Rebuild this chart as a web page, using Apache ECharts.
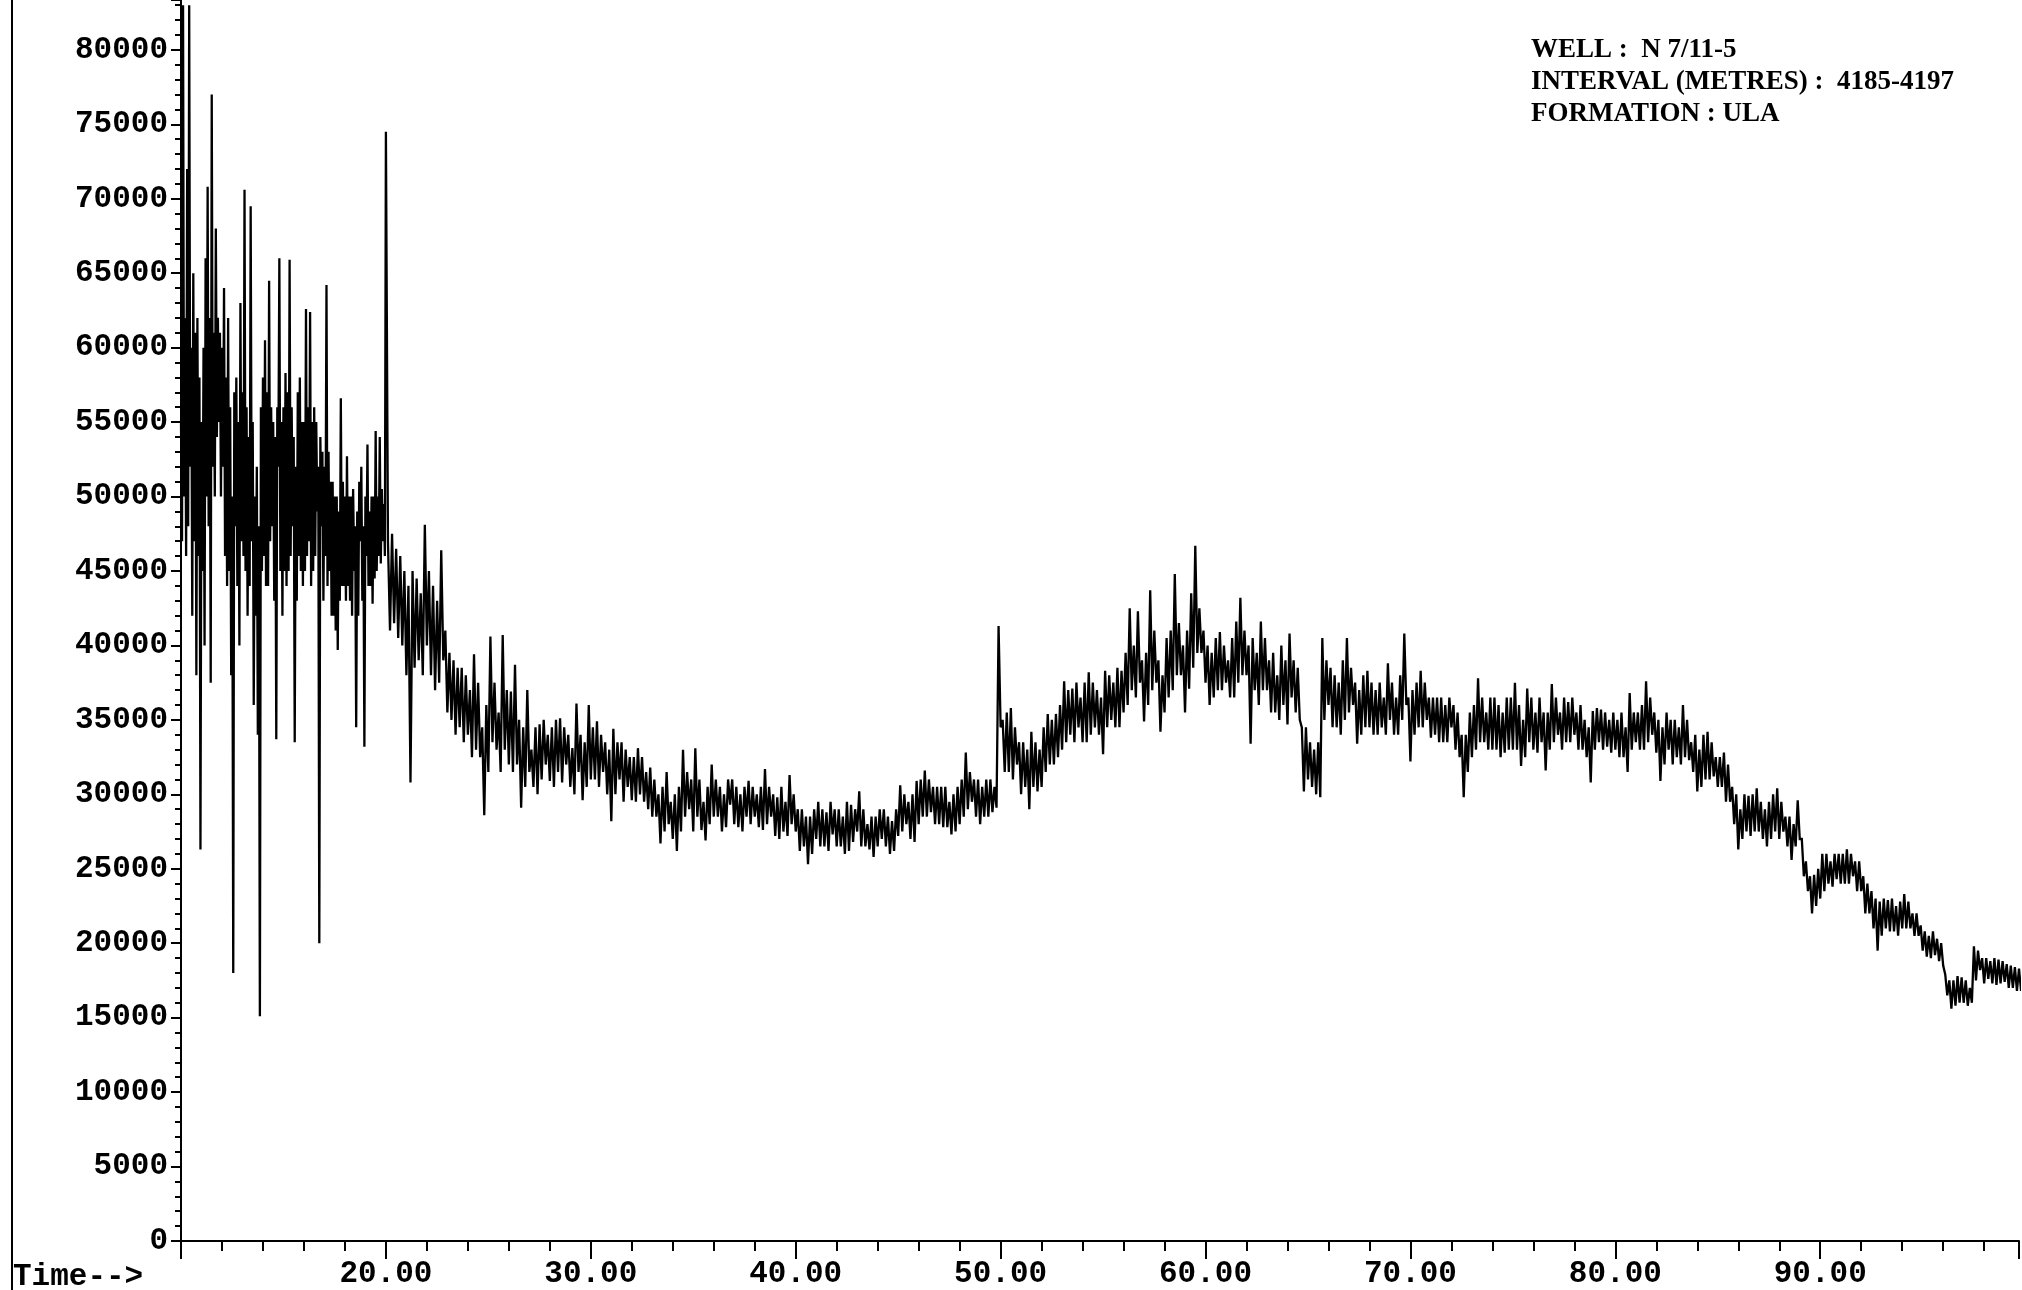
<!DOCTYPE html>
<html>
<head>
<meta charset="utf-8">
<title>TIC N 7/11-5</title>
<script src="https://cdn.jsdelivr.net/npm/echarts@6/dist/echarts.min.js"></script>
<style>
  html, body { margin: 0; padding: 0; background: #fff; }
  #chart { width: 2022px; height: 1290px; }
</style>
</head>
<body>
<div id="chart"></div>
<script>
// Total ion current, abundance vs retention time (min)

// 10.00 – 20.00 min, one reading every 0.05 min (one row per minute)
const fastStart = 10.0;
const fastStep = 0.05;
const countsFast = [
  55000, 47000, 83000, 50000, 62000, 46000, 72000, 48000, 83000, 52000,
  60000, 42000, 65000, 47000, 61000, 38000, 62000, 46000, 58000, 26300, // 10
  55000, 45000, 60000, 40000, 66000, 50000, 70800, 48000, 62000, 37500,
  77000, 52000, 61000, 50000, 68000, 54000, 62000, 55000, 61000, 50000, // 11
  60000, 52000, 64000, 46000, 58000, 44000, 62000, 45000, 56000, 38000,
  50000, 18000, 57000, 48000, 58000, 44000, 55000, 40000, 63000, 47000, // 12
  57000, 46000, 70600, 45000, 56000, 42000, 54000, 44000, 69500, 47000,
  55000, 36000, 50000, 42000, 52000, 34000, 48000, 15100, 56000, 45000, // 13
  58000, 46000, 60500, 44000, 57000, 44000, 64500, 47000, 56000, 48000,
  55000, 43000, 54000, 33700, 56000, 52000, 66000, 45000, 55000, 42000, // 14
  56000, 45000, 58300, 44000, 57000, 45000, 65900, 46000, 56000, 48000,
  54000, 33500, 52000, 43000, 57000, 46000, 58000, 45000, 55000, 44000, // 15
  55000, 45000, 62600, 46000, 56000, 47000, 62400, 44000, 55000, 45000,
  56000, 46000, 55000, 49000, 52000, 20000, 54000, 48000, 53000, 43000, // 16
  52000, 46000, 64200, 44000, 53000, 45000, 51000, 42000, 51000, 42000,
  50000, 41000, 50000, 39700, 49000, 43000, 56600, 44000, 51000, 44000, // 17
  50000, 43000, 52700, 44000, 50000, 43000, 50000, 42000, 50500, 45000,
  48000, 34500, 49000, 42000, 51000, 47000, 52000, 43000, 48000, 33200, // 18
  50000, 46000, 53500, 44000, 49000, 44000, 50000, 42800, 50000, 44500,
  54400, 45000, 50000, 46000, 54000, 45500, 50500, 47000, 49500, 46000, // 19
  74500
];

// 20.1 – 100.0 min, one reading every 0.1 min (one row per minute)
const slowStart = 20.1;
const slowStep = 0.1;
const countsSlow = [
  47000, 41000, 47500, 41500, 46500, 40500, 46000, 40000, 45000, 38000, // 20
  44000, 30800, 45000, 38500, 44500, 39000, 43500, 38000, 48100, 40000, // 21
  45000, 38000, 44000, 37000, 43000, 37500, 46400, 39000, 41000, 35500, // 22
  39500, 35000, 39000, 34000, 38500, 34500, 38500, 33500, 38000, 34000, // 23
  37000, 32500, 39400, 33000, 37500, 32500, 34500, 28600, 36000, 31500, // 24
  40600, 33500, 37500, 33000, 35500, 31500, 40700, 33000, 37000, 32000, // 25
  36900, 31500, 38700, 32000, 35000, 29100, 34500, 30500, 37000, 31500, // 26
  33000, 30500, 34500, 30000, 34700, 31000, 35000, 32000, 34000, 30900, // 27
  34500, 30500, 35000, 31500, 35100, 30800, 34500, 32000, 34000, 30500, // 28
  33100, 30000, 36100, 31500, 34000, 29600, 33500, 30500, 36000, 31000, // 29
  34500, 31000, 34900, 30500, 34000, 31500, 33500, 30000, 33000, 28200, // 30
  34400, 30000, 33500, 31000, 33500, 29500, 33000, 30500, 32500, 29600, // 31
  32500, 29500, 33100, 30000, 32500, 29500, 31500, 29000, 31800, 28500, // 32
  31000, 28500, 30000, 26700, 30500, 27500, 31500, 28000, 29500, 27000, // 33
  30000, 26200, 30500, 27500, 33000, 28500, 31500, 29000, 31000, 27500, // 34
  33100, 28500, 31000, 27600, 29500, 26900, 30500, 28000, 32000, 28500, // 35
  31000, 28500, 30500, 27500, 30000, 27800, 31000, 29300, 31000, 28000, // 36
  30500, 27800, 30000, 27500, 30500, 28500, 30900, 28000, 30500, 28500, // 37
  30000, 27800, 30500, 27600, 31700, 28000, 30500, 28500, 30000, 27200, // 38
  29800, 27000, 30500, 27500, 29500, 27200, 31300, 28000, 30000, 27500, // 39
  29000, 26200, 29000, 26500, 28500, 25300, 28500, 26000, 29000, 27000, // 40
  29500, 26500, 29000, 26500, 28800, 26200, 29500, 27300, 29000, 26500, // 41
  29000, 26500, 28500, 26000, 29500, 26200, 29300, 26800, 29000, 27500, // 42
  30200, 26500, 29000, 26500, 28000, 26300, 28500, 25800, 28500, 26500, // 43
  29000, 27000, 29000, 26500, 28500, 26000, 28200, 26200, 29000, 27200, // 44
  30600, 27500, 30000, 28000, 29500, 27000, 30000, 26800, 30900, 28000, // 45
  31000, 28500, 31600, 28500, 31000, 28800, 30500, 28000, 30500, 28000, // 46
  30500, 27800, 30500, 27800, 29500, 27300, 30000, 27500, 30500, 28000, // 47
  31000, 28500, 32800, 29000, 31500, 29500, 31000, 28500, 31000, 28000, // 48
  30500, 28500, 31000, 28500, 31000, 28800, 30500, 29100, 41300, 34500, // 49
  35000, 31500, 35500, 31500, 35800, 31000, 34500, 32000, 33500, 30000, // 50
  33500, 30500, 33000, 29000, 34200, 30500, 33500, 30200, 33000, 30500, // 51
  34500, 31500, 35400, 32000, 35000, 32000, 35400, 32500, 36000, 33000, // 52
  37600, 33500, 37000, 34000, 37100, 33500, 37500, 34500, 36500, 33500, // 53
  37500, 33500, 38200, 34000, 37500, 34500, 37000, 34000, 36500, 32700, // 54
  38300, 34500, 38000, 35000, 37500, 34500, 38500, 34500, 38300, 35500, // 55
  39500, 36000, 42500, 37000, 40000, 36500, 42300, 37500, 39000, 34900, // 56
  39500, 36000, 43700, 37000, 41000, 37500, 39000, 34200, 38000, 35500, // 57
  40500, 36500, 41000, 37000, 44800, 38000, 41500, 38000, 40000, 35500, // 58
  41000, 37100, 43500, 38500, 46700, 39500, 42500, 39500, 41000, 37500, // 59
  40000, 36000, 39500, 36500, 40500, 37000, 40900, 37000, 40000, 37500, // 60
  39000, 36500, 40500, 36500, 41600, 37500, 43200, 38000, 41000, 38000, // 61
  40000, 33400, 40500, 37000, 39500, 36000, 41600, 37000, 40500, 37000, // 62
  39000, 35500, 39500, 35500, 38000, 35000, 40000, 36000, 39000, 34700, // 63
  40800, 36500, 39000, 35500, 38500, 35000, 34500, 30200, 34500, 31000, // 64
  33500, 30500, 33000, 30000, 33500, 29800, 40500, 35000, 39000, 36000, // 65
  38500, 34500, 38000, 34500, 37500, 34000, 39000, 35000, 40500, 35500, // 66
  38500, 36000, 37500, 33400, 37000, 34000, 38000, 34500, 38300, 34500, // 67
  37500, 34000, 37000, 34000, 37500, 34500, 36500, 34000, 38800, 35000, // 68
  37500, 34000, 36500, 34000, 38000, 35000, 40800, 36000, 36500, 32200, // 69
  37000, 34000, 37500, 34500, 38300, 34500, 37500, 35000, 36500, 33800, // 70
  36500, 34000, 36500, 33500, 36500, 33500, 36000, 33500, 36500, 34500, // 71
  36000, 33000, 35500, 32500, 34000, 29800, 34000, 31500, 35500, 32500, // 72
  36000, 33000, 37800, 33500, 36500, 33500, 35500, 33000, 36500, 33000, // 73
  36500, 33000, 36000, 32500, 35500, 32800, 36500, 33000, 36500, 33000, // 74
  37500, 33000, 36000, 31900, 35000, 32500, 37100, 33500, 36500, 33000, // 75
  35500, 32800, 36500, 33500, 35500, 31600, 35500, 33000, 37400, 33500, // 76
  36500, 34000, 35500, 33000, 36500, 33500, 36200, 33500, 36500, 34000, // 77
  35500, 33000, 36000, 33000, 35000, 32500, 34500, 30800, 35600, 33000, // 78
  35800, 33500, 35700, 33000, 35500, 33200, 35000, 32800, 35500, 33000, // 79
  35000, 32500, 35500, 32500, 34500, 31500, 36800, 33000, 35500, 33500, // 80
  35500, 33000, 36000, 33000, 37600, 33500, 36500, 34000, 35500, 32800, // 81
  35000, 30900, 34500, 32000, 35500, 33000, 35000, 32000, 35000, 32500, // 82
  34500, 32000, 36000, 32500, 35000, 32300, 33500, 31500, 34000, 30200, // 83
  33000, 30500, 34000, 31000, 34200, 31000, 33500, 31200, 32500, 30500, // 84
  32500, 30500, 32800, 29500, 32000, 29500, 30500, 28000, 30000, 26300, // 85
  29000, 27000, 30000, 27500, 29900, 27200, 30000, 27500, 30400, 27500, // 86
  29500, 27000, 29000, 26500, 29500, 27000, 30000, 27500, 30400, 27000, // 87
  29500, 27500, 28500, 26500, 28500, 25600, 28000, 26500, 29600, 27000, // 88
  27000, 24500, 25500, 23500, 24500, 22000, 24600, 22500, 25000, 23000, // 89
  26000, 23500, 26000, 24000, 25500, 23800, 26000, 24300, 26000, 24000, // 90
  26000, 24000, 26300, 24000, 26000, 24500, 25500, 23500, 25500, 23500, // 91
  24500, 22000, 24000, 22000, 23500, 21000, 23000, 19500, 22800, 20500, // 92
  23000, 21000, 22900, 20800, 23000, 20800, 22500, 20500, 22800, 21000, // 93
  23300, 21000, 22800, 21000, 22000, 20500, 22000, 20500, 21200, 19500, // 94
  20800, 19100, 20500, 19000, 20800, 19200, 20300, 18800, 20000, 18500, // 95
  17900, 16500, 17500, 15600, 17500, 15800, 17800, 16000, 17700, 16000, // 96
  17500, 15800, 17000, 16000, 19800, 17500, 19500, 18200, 19000, 17300, // 97
  19000, 17600, 18800, 17300, 19000, 17200, 18900, 17300, 18800, 17400, // 98
  18600, 17000, 18500, 17000, 18400, 16800, 18300, 16800, 18000, 17600  // 99
];

// Header block lines
const headerLines = [
  'WELL :  N 7/11-5',
  'INTERVAL (METRES) :  4185-4197',
  'FORMATION : ULA'
];

const timeMin = 10;
const timeMax = 99.7;
const timeInterval = 10;
const countMax = 83350;
const countInterval = 5000;

const series = [];
countsFast.forEach((v, i) => series.push([+(fastStart + i * fastStep).toFixed(3), v]));
countsSlow.forEach((v, i) => series.push([+(slowStart + i * slowStep).toFixed(3), v]));

const monoFont = '"Liberation Mono", "DejaVu Sans Mono", monospace';
const serifFont = '"Liberation Serif", "DejaVu Serif", serif';

const chart = echarts.init(document.getElementById('chart'), null, { renderer: 'canvas' });

chart.setOption({
  animation: false,
  backgroundColor: '#ffffff',
  grid: { left: 181, right: 2, top: 0, bottom: 45, containLabel: false },
  xAxis: {
    type: 'value',
    min: timeMin,
    max: timeMax,
    interval: timeInterval,
    axisLine: { show: true, onZero: false, lineStyle: { color: '#000', width: 2 } },
    axisTick: { show: true, inside: false, length: 18, lineStyle: { color: '#000', width: 2 } },
    minorTick: { show: true, splitNumber: 5, length: 10, lineStyle: { color: '#000', width: 2 } },
    splitLine: { show: false },
    axisLabel: {
      color: '#000',
      fontFamily: monoFont,
      fontWeight: 'bold',
      fontSize: 31,
      margin: 18,
      formatter: v => {
        const r = Math.round(v / 10) * 10;
        return (Math.abs(v - r) < 1e-6 && r > timeMin && r < 100) ? r.toFixed(2) : '';
      }
    }
  },
  yAxis: {
    type: 'value',
    min: 0,
    max: countMax,
    interval: countInterval,
    axisLine: { show: true, lineStyle: { color: '#000', width: 2 } },
    axisTick: { show: true, inside: false, length: 10, lineStyle: { color: '#000', width: 2 } },
    minorTick: { show: true, splitNumber: 5, length: 6, lineStyle: { color: '#000', width: 2 } },
    splitLine: { show: false },
    axisLabel: {
      color: '#000',
      fontFamily: monoFont,
      fontWeight: 'bold',
      fontSize: 31,
      margin: 13,
      showMaxLabel: false,
      formatter: v => (v % countInterval === 0 ? String(v) : '')
    }
  },
  series: [{
    type: 'line',
    data: series,
    showSymbol: false,
    symbol: 'none',
    clip: true,
    lineStyle: { color: '#000', width: 2.3, join: 'miter', miterLimit: 3 },
    emphasis: { disabled: true }
  }],
  graphic: [
    // left page edge
    {
      type: 'line',
      shape: { x1: 12, y1: 0, x2: 12, y2: 1290 },
      style: { stroke: '#000', lineWidth: 2 }
    },
    {
      type: 'text',
      left: 13,
      top: 1262,
      style: { text: 'Time-->', font: 'bold 31px ' + monoFont, fill: '#000' }
    },
    {
      type: 'text',
      left: 1531,
      top: 34,
      style: {
        text: headerLines.join('\n'),
        font: 'bold 27px ' + serifFont,
        lineHeight: 32,
        fill: '#000'
      }
    }
  ]
});
</script>
</body>
</html>
